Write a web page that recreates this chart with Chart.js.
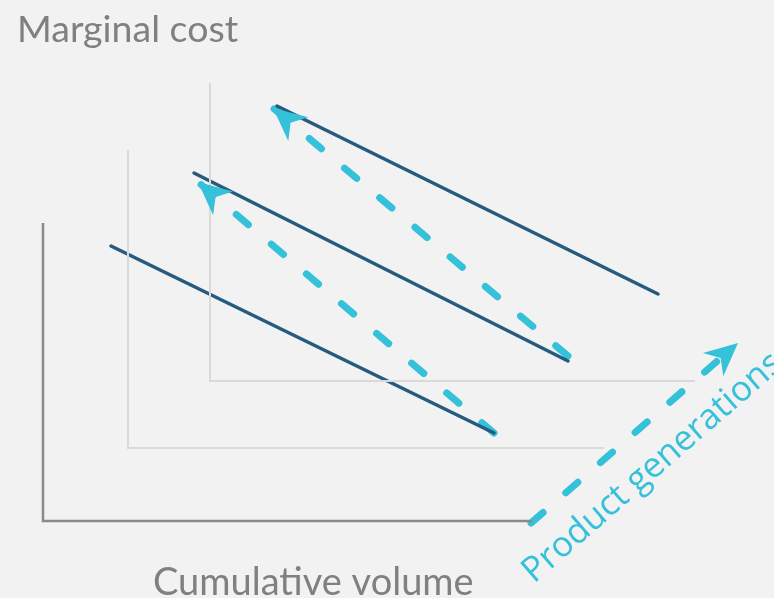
<!DOCTYPE html>
<html>
<head>
<meta charset="utf-8">
<title>Marginal cost vs cumulative volume</title>
<script src="https://cdn.jsdelivr.net/npm/chart.js@4.4.1/dist/chart.umd.min.js"></script>
<style>
    html, body { margin: 0; padding: 0; background: #f2f2f2; }
    #wrap { position: relative; width: 774px; height: 598px; }
</style>
</head>
<body>
<div id="wrap"><canvas id="curve-chart"></canvas></div>
<script>
// 3世代分の学習曲線（値は画像から読み取り）
const axisGen1 = [{x: 0, y: 29.8}, {x: 0, y: 0}, {x: 48.9, y: 0}];
const axisGen2 = [{x: 8.5, y: 37.1}, {x: 8.5, y: 7.3}, {x: 56.1, y: 7.3}];
const axisGen3 = [{x: 16.7, y: 43.8}, {x: 16.7, y: 14.0}, {x: 65.2, y: 14.0}];

const costGen1 = [{x: 6.8, y: 27.5}, {x: 45.1, y: 8.8}];
const costGen2 = [{x: 15.1, y: 34.8}, {x: 52.5, y: 16.0}];
const costGen3 = [{x: 23.4, y: 41.5}, {x: 61.5, y: 22.7}];

// 破線の矢印（尾→先端）
const resetArrow1 = [{x: 45.1, y: 8.8}, {x: 15.5, y: 33.9}];
const resetArrow2 = [{x: 52.5, y: 16.5}, {x: 23.0, y: 41.3}];
const generationArrow = [{x: 48.8, y: -0.2}, {x: 69.5, y: 17.8}];

const xRange = [-4.3, 73.1];
const yRange = [-7.7, 52.1];

const DARK = '#265a7f';
const CYAN = '#35c1d9';

function solid(data) {
    return { data: data, borderColor: DARK, borderWidth: 3.5, borderCapStyle: 'round' };
}
function dashed(data) {
    return { data: data, borderColor: CYAN, borderWidth: 7, borderCapStyle: 'round',
             borderDash: [16, 30], arrow: true };
}

// 矢印の先端を描くプラグイン
const arrowHeads = {
    id: 'arrowHeads',
    afterDatasetsDraw(chart) {
        const ctx = chart.ctx;
        chart.data.datasets.forEach((ds, i) => {
            if (!ds.arrow) return;
            const pts = chart.getDatasetMeta(i).data;
            const a = pts[pts.length - 2], b = pts[pts.length - 1];
            const ang = Math.atan2(b.y - a.y, b.x - a.x);
            ctx.save();
            ctx.translate(b.x, b.y);
            ctx.rotate(ang);
            ctx.fillStyle = ds.borderColor;
            ctx.beginPath();
            ctx.moveTo(0, 0);
            ctx.lineTo(-33, -15.5);
            ctx.lineTo(-23, 0);
            ctx.lineTo(-33, 15.5);
            ctx.closePath();
            ctx.fill();
            ctx.restore();
        });
    }
};

// ラベル
const labels = {
    id: 'labels',
    afterDraw(chart) {
        const ctx = chart.ctx;
        ctx.save();
        ctx.fillStyle = '#808080';
        ctx.font = '37.5px Lato';
        ctx.textBaseline = 'alphabetic';
        ctx.fillText('Marginal cost', 17, 42);
        ctx.font = '38px Lato';
        ctx.fillText('Cumulative volume', 153, 595);

        ctx.fillStyle = CYAN;
        ctx.font = '35px "Open Sans"';
        ctx.translate(534, 584);
        ctx.rotate(-41 * Math.PI / 180);
        ctx.fillText('Product generations', 0, 0);
        ctx.restore();
    }
};

new Chart(document.getElementById('curve-chart'), {
    type: 'scatter',
    data: {
        datasets: [
            { data: axisGen3, borderColor: '#d9d9d9', borderWidth: 2 },
            { data: axisGen2, borderColor: '#d9d9d9', borderWidth: 2 },
            { data: axisGen1, borderColor: '#8a8a8a', borderWidth: 2.5 },
            solid(costGen1),
            solid(costGen2),
            solid(costGen3),
            dashed(resetArrow1),
            dashed(resetArrow2),
            dashed(generationArrow)
        ].map(ds => Object.assign({ showLine: true, pointRadius: 0, pointHoverRadius: 0, fill: false }, ds))
    },
    options: {
        responsive: true,
        maintainAspectRatio: false,
        animation: false,
        events: [],
        layout: { padding: 0 },
        plugins: {
            legend: { display: false },
            tooltip: { enabled: false }
        },
        scales: {
            x: { type: 'linear', display: false, min: xRange[0], max: xRange[1] },
            y: { type: 'linear', display: false, min: yRange[0], max: yRange[1] }
        }
    },
    plugins: [arrowHeads, labels]
});
</script>
</body>
</html>
